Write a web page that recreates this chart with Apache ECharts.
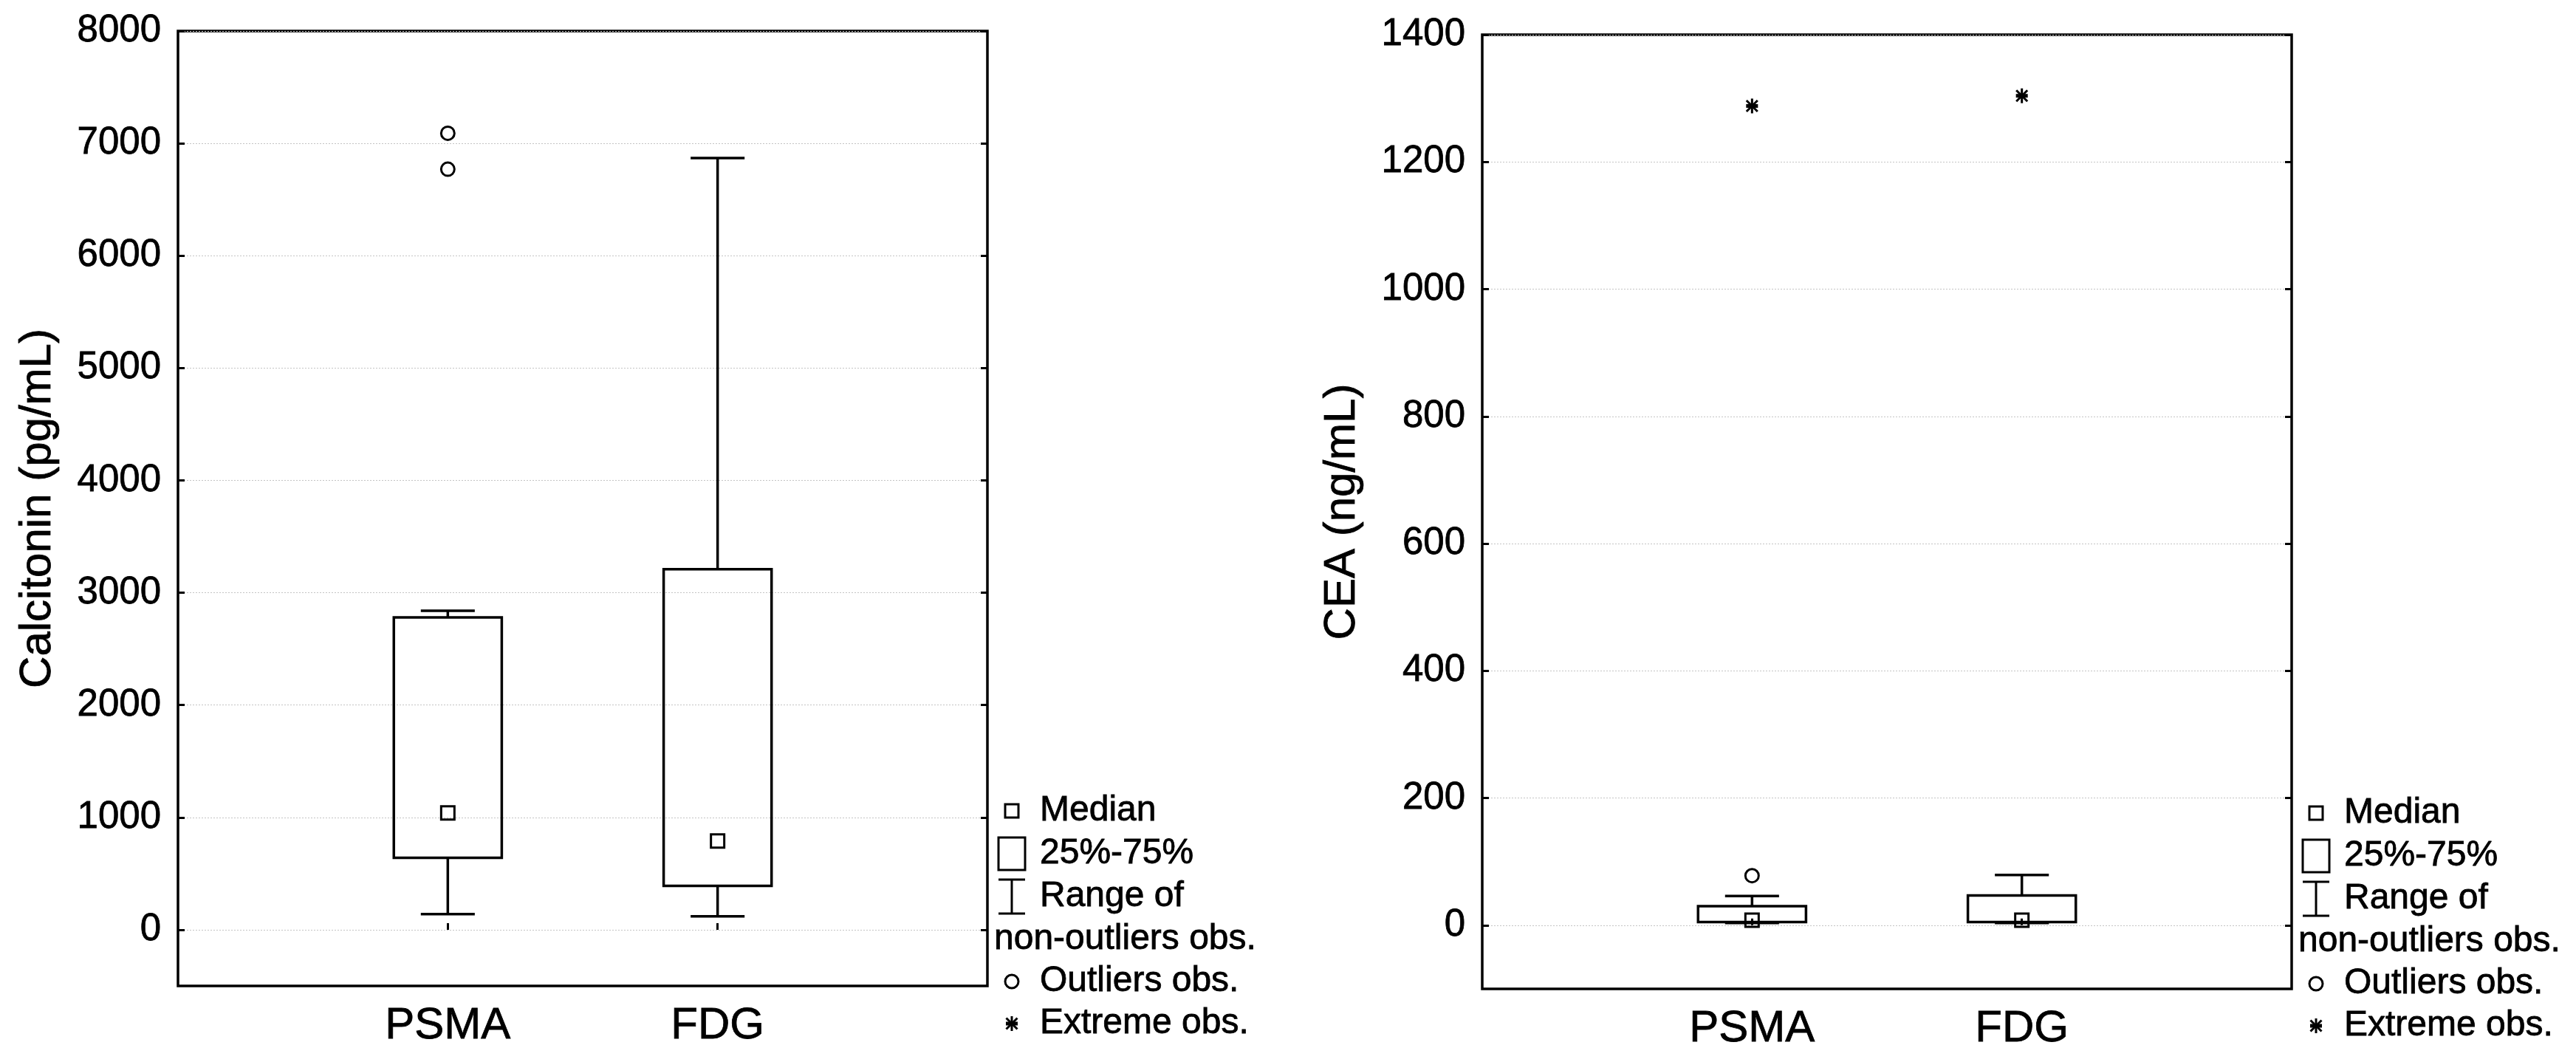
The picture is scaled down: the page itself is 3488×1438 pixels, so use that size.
<!DOCTYPE html>
<html>
<head>
<meta charset="utf-8">
<script src="https://cdn.jsdelivr.net/npm/echarts@6/dist/echarts.min.js"></script>
<style>
html,body{margin:0;padding:0;background:#fff;}
#chart{width:3488px;height:1438px;}
</style>
</head>
<body>
<div id="chart"></div>
<script>
// ---------- data ----------
const categories = ['PSMA', 'FDG'];

const calcitoninTicks = [0, 1000, 2000, 3000, 4000, 5000, 6000, 7000, 8000];
const calcitoninLow    = [140, 120];
const calcitoninQ1     = [640, 390];
const calcitoninMedian = [1040, 790];
const calcitoninQ3     = [2780, 3210];
const calcitoninHigh   = [2840, 6870];
const calcitoninOutliers = [[0, 7090], [0, 6770]];   // [category index, value]
const calcitoninExtremes = [];

const ceaTicks = [0, 200, 400, 600, 800, 1000, 1200, 1400];
const ceaLow    = [3.5, 3.5];
const ceaQ1     = [5, 5];
const ceaMedian = [8, 8];
const ceaQ3     = [30, 47];
const ceaHigh   = [46, 79];
const ceaOutliers = [[0, 78]];
const ceaExtremes = [[0, 1288], [1, 1304]];

const legendLabels = ['Median', '25%-75%', 'Range of', 'non-outliers obs.', 'Outliers obs.', 'Extreme obs.'];

// ---------- helpers ----------
const FONT = "'Liberation Sans', Arial, sans-serif";
const TXT_BORDER = { textBorderColor: '#000', textBorderWidth: 0.8 };
const LW = 3.5;

function boxData(low, q1, med, q3, high) {
  return categories.map((c, i) => [i + 1, low[i], q1[i], med[i], q3[i], high[i]]);
}
function pointData(list) {
  return list.map(p => [p[0] + 1, p[1]]);
}

function starShapes(cx, cy) {
  const r = 10, d = 7.5;
  const ls = { stroke: '#000', lineWidth: 3 };
  return [
    { type: 'line', shape: { x1: cx, y1: cy - r, x2: cx, y2: cy + r }, style: ls },
    { type: 'line', shape: { x1: cx - d, y1: cy - d, x2: cx + d, y2: cy + d }, style: ls },
    { type: 'line', shape: { x1: cx + d, y1: cy - d, x2: cx - d, y2: cy + d }, style: ls },
    { type: 'line', shape: { x1: cx - 8, y1: cy, x2: cx + 8, y2: cy }, style: { stroke: '#000', lineWidth: 5 } }
  ];
}

function renderBox(params, api) {
  const x = api.value(0);
  const lo = api.coord([x, api.value(1)]);
  const q1 = api.coord([x, api.value(2)]);
  const q3 = api.coord([x, api.value(4)]);
  const hi = api.coord([x, api.value(5)]);
  const unit = api.size([1, 0])[0];
  const bw = unit * 0.4, cw = unit * 0.2;
  const ls = { stroke: '#000', lineWidth: LW };
  return {
    type: 'group',
    children: [
      { type: 'line', shape: { x1: hi[0], y1: hi[1], x2: q3[0], y2: q3[1] }, style: ls },
      { type: 'line', shape: { x1: lo[0], y1: lo[1], x2: q1[0], y2: q1[1] }, style: ls },
      { type: 'line', shape: { x1: hi[0] - cw / 2, y1: hi[1], x2: hi[0] + cw / 2, y2: hi[1] }, style: ls },
      { type: 'line', shape: { x1: lo[0] - cw / 2, y1: lo[1], x2: lo[0] + cw / 2, y2: lo[1] }, style: ls },
      { type: 'rect', shape: { x: q1[0] - bw / 2, y: q3[1], width: bw, height: q1[1] - q3[1] },
        style: { stroke: '#000', lineWidth: LW, fill: 'rgba(0,0,0,0)' } }
    ]
  };
}

function renderStar(params, api) {
  const c = api.coord([api.value(0), api.value(1)]);
  return { type: 'group', children: starShapes(c[0], c[1]) };
}

function xAxisFor(gi) {
  return {
    type: 'value', gridIndex: gi, min: 0, max: categories.length + 1,
    axisLine: { show: false },
    axisTick: { show: true, inside: true, length: 9, lineStyle: { color: '#000', width: 3 },
      customValues: categories.map((c, i) => i + 1) },
    axisLabel: { show: true, margin: 24, fontSize: 60, fontFamily: FONT, color: '#000', ...TXT_BORDER,
      customValues: categories.map((c, i) => i + 1),
      formatter: v => categories[Math.round(v) - 1] || '' },
    splitLine: { show: false }
  };
}

function yAxesFor(gi, min, max, ticks, name) {
  return [{
    type: 'value', gridIndex: gi, min: min, max: max, position: 'left',
    name: name, nameLocation: 'middle', nameRotate: 90, nameGap: 160,
    nameTextStyle: { fontSize: 60, fontFamily: FONT, color: '#000', ...TXT_BORDER },
    axisLine: { show: false },
    axisTick: { show: true, inside: true, length: 9, lineStyle: { color: '#000', width: 3 }, customValues: ticks },
    axisLabel: { show: true, margin: 23, fontSize: 51, fontFamily: FONT, color: '#000', ...TXT_BORDER,
      customValues: ticks, formatter: v => String(v) },
    splitLine: { show: true, lineStyle: { color: '#c4c4c4', width: 1, type: [2, 2] } }
  }, {
    type: 'value', gridIndex: gi, min: min, max: max, position: 'right',
    axisLine: { show: false },
    axisTick: { show: true, inside: true, length: 9, lineStyle: { color: '#000', width: 3 }, customValues: ticks },
    axisLabel: { show: false },
    splitLine: { show: false }
  }];
}

function seriesFor(gi, box, medians, outliers, extremes) {
  const xi = gi, yi = gi * 2;
  return [
    { type: 'custom', xAxisIndex: xi, yAxisIndex: yi, renderItem: renderBox,
      encode: { x: 0, y: [1, 2, 3, 4, 5] }, data: box, z: 3 },
    { type: 'scatter', xAxisIndex: xi, yAxisIndex: yi, symbol: 'rect', symbolSize: 18,
      itemStyle: { color: 'rgba(0,0,0,0)', borderColor: '#000', borderWidth: 3, opacity: 1 },
      data: medians, z: 4 },
    { type: 'scatter', xAxisIndex: xi, yAxisIndex: yi, symbol: 'circle', symbolSize: 18,
      itemStyle: { color: 'rgba(0,0,0,0)', borderColor: '#000', borderWidth: 3, opacity: 1 },
      data: outliers, z: 4 },
    { type: 'custom', xAxisIndex: xi, yAxisIndex: yi, renderItem: renderStar,
      encode: { x: 0, y: 1 }, data: extremes, z: 4 }
  ];
}

// legend drawn as graphic elements next to each plot
function legendGraphics(frameRight, yShift) {
  const sx = frameRight + 33, tx = frameRight + 71;
  const ys = [1098, 1156, 1214, 1272, 1329, 1386].map(v => v + yShift);
  const ls = { stroke: '#000', lineWidth: 3, fill: 'rgba(0,0,0,0)' };
  const txt = (x, y, s) => ({ type: 'text', x: x, y: y,
    style: { text: s, fontSize: 48, fontFamily: FONT, fill: '#000', stroke: '#000', lineWidth: 0.8,
      textAlign: 'left', textVerticalAlign: 'middle' } });
  return [
    { type: 'rect', shape: { x: sx - 9, y: ys[0] - 9, width: 18, height: 18 }, style: ls },
    txt(tx, ys[0], legendLabels[0]),
    { type: 'rect', shape: { x: sx - 18, y: ys[1] - 22, width: 36, height: 44 }, style: ls },
    txt(tx, ys[1], legendLabels[1]),
    { type: 'line', shape: { x1: sx - 18, y1: ys[2] - 23, x2: sx + 18, y2: ys[2] - 23 }, style: ls },
    { type: 'line', shape: { x1: sx, y1: ys[2] - 23, x2: sx, y2: ys[2] + 23 }, style: ls },
    { type: 'line', shape: { x1: sx - 18, y1: ys[2] + 23, x2: sx + 18, y2: ys[2] + 23 }, style: ls },
    txt(tx, ys[2], legendLabels[2]),
    txt(frameRight + 9, ys[3], legendLabels[3]),
    { type: 'circle', shape: { cx: sx, cy: ys[4], r: 9 }, style: ls },
    txt(tx, ys[4], legendLabels[4]),
    ...starShapes(sx, ys[5]),
    txt(tx, ys[5], legendLabels[5])
  ];
}

const chart = echarts.init(document.getElementById('chart'), null, { renderer: 'canvas', devicePixelRatio: 1 });

const y0 = yAxesFor(0, -500, 8000, calcitoninTicks, 'Calcitonin (pg/mL)');
const y1 = yAxesFor(1, -100, 1400, ceaTicks, 'CEA (ng/mL)');

chart.setOption({
  backgroundColor: '#fff',
  animation: false,
  textStyle: { fontFamily: FONT },
  grid: [
    { left: 241, top: 42, width: 1096, height: 1293, show: true, borderColor: '#000', borderWidth: LW, backgroundColor: 'rgba(0,0,0,0)' },
    { left: 2007, top: 47, width: 1096, height: 1292, show: true, borderColor: '#000', borderWidth: LW, backgroundColor: 'rgba(0,0,0,0)' }
  ],
  xAxis: [xAxisFor(0), xAxisFor(1)],
  yAxis: [y0[0], y0[1], y1[0], y1[1]],
  series: [
    ...seriesFor(0,
      boxData(calcitoninLow, calcitoninQ1, calcitoninMedian, calcitoninQ3, calcitoninHigh),
      categories.map((c, i) => [i + 1, calcitoninMedian[i]]),
      pointData(calcitoninOutliers), pointData(calcitoninExtremes)),
    ...seriesFor(1,
      boxData(ceaLow, ceaQ1, ceaMedian, ceaQ3, ceaHigh),
      categories.map((c, i) => [i + 1, ceaMedian[i]]),
      pointData(ceaOutliers), pointData(ceaExtremes))
  ],
  graphic: [...legendGraphics(1337, 0), ...legendGraphics(3103, 3)]
});
</script>
</body>
</html>
